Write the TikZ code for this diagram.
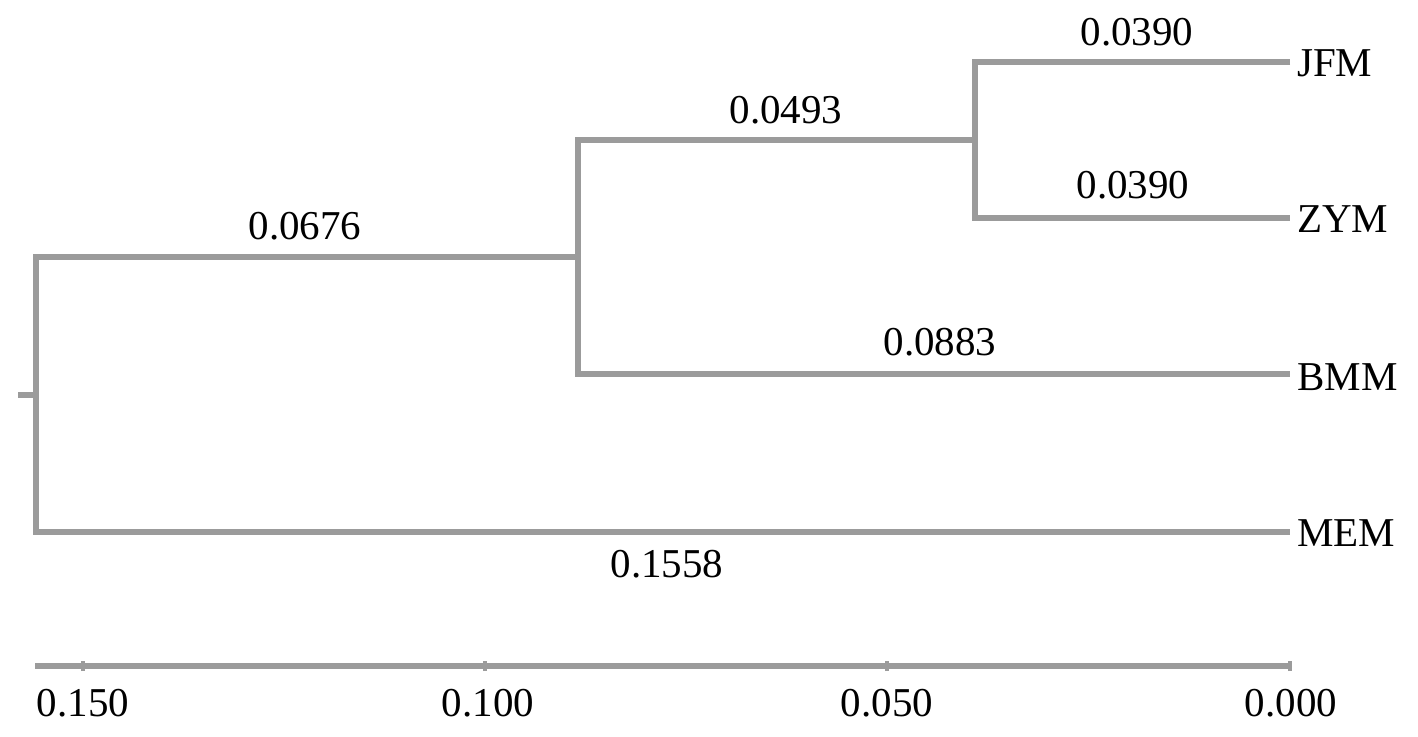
\documentclass[tikz,border=0pt]{standalone}
\usepackage{fontspec}
\setmainfont{Liberation Serif}
\definecolor{treegray}{RGB}{155,155,155}
\begin{document}
\begin{tikzpicture}[x=1pt,y=-1pt,
  branch/.style={draw=treegray,line width=5.5pt,line join=miter},
  tickmark/.style={draw=treegray,line width=4pt},
  leaf/.style={anchor=base west,inner sep=0pt,font=\fontsize{41}{49}\selectfont},
  blen/.style={anchor=base,inner sep=0pt,font=\fontsize{41}{49}\selectfont},
  axlab/.style={anchor=base,inner sep=0pt,font=\fontsize{41}{49}\selectfont}]
\useasboundingbox (0,0) rectangle (1418,736);
% tree coordinates
\coordinate (s) at (18,395);
\coordinate (r) at (36,395);
\coordinate (a) at (578,257);
\coordinate (b) at (975,140);
\coordinate (lj) at (1290,62);
\coordinate (lz) at (1290,218);
\coordinate (lb) at (1290,374);
\coordinate (lm) at (1290,532);
% branches
\draw[branch] (s) -- (r);
\draw[branch] (a) -| (r) |- (lm);
\draw[branch] (b) -| (a) |- (lb);
\draw[branch] (lj) -| (b) |- (lz);
% leaf labels
\node[leaf] (JFM) at (1297,76) {JFM};
\node[leaf] (ZYM) at (1297,232) {ZYM};
\node[leaf] (BMM) at (1297,390) {BMM};
\node[leaf] (MEM) at (1297,546) {MEM};
% branch lengths
\node[blen] (l1) at (1137,45) {0.0390};
\node[blen] (l2) at (1133,198) {0.0390};
\node[blen] (l3) at (786,123) {0.0493};
\node[blen] (l4) at (940,355) {0.0883};
\node[blen] (l5) at (305,239) {0.0676};
\node[blen] (l6) at (667,577) {0.1558};
% axis
\coordinate (ax0) at (35,666);
\coordinate (ax1) at (1290,666);
\draw[branch] (ax0) -- (ax1);
\foreach \x/\n in {83/t150,485/t100,887/t050,1290/t000}{
  \coordinate (\n) at (\x,666);
  \draw[tickmark] ([yshift=-5pt]\n) -- ([yshift=5pt]\n);
}
\node[axlab] (a150) at (83,716) {0.150};
\node[axlab] (a100) at (488,716) {0.100};
\node[axlab] (a050) at (887,716) {0.050};
\node[axlab] (a000) at (1291,716) {0.000};
\end{tikzpicture}
\end{document}
